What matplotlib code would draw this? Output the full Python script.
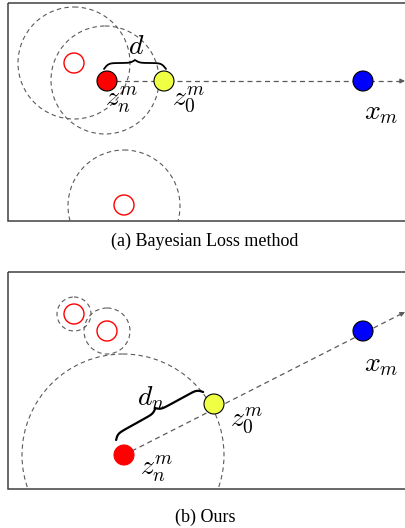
import numpy as np
import matplotlib
matplotlib.use("Agg")
import matplotlib.pyplot as plt
from matplotlib.patches import Circle, Rectangle

plt.rcParams['mathtext.fontset'] = 'cm'

# ---------------- data (pixel positions) ----------------
# Panel (a): Bayesian Loss method
a_box = (8, 3, 410, 218)                  # x, y, w, h
a_zn = (107, 81)
a_z0 = (164, 81)
a_xm = (363, 81)
a_arrow_end = (405, 81)
a_hollow = [(74, 63), (124, 205)]
a_dashed_x = [74, 105, 124]
a_dashed_y = [63, 80, 206]
a_dashed_r = [56, 54, 56]
a_labels = [r'$z_n^m$', r'$z_0^m$', r'$x_m$', r'$d$']
a_label_x = [122, 189, 381, 136]
a_label_y = [100, 100, 112, 46]
a_caption = '(a) Bayesian Loss method'

# Panel (b): Ours
b_box = (8, 272, 410, 217)
b_zn = (124, 455)
b_z0 = (214, 404)
b_xm = (363, 331)
b_arrow_end = (405, 312)
b_hollow = [(74, 314), (107, 331)]
b_dashed_x = [74, 107, 123]
b_dashed_y = [314, 331, 455]
b_dashed_r = [17, 23, 101]
b_labels = [r'$z_n^m$', r'$z_0^m$', r'$x_m$', r'$d_n$']
b_label_x = [157, 247, 381, 151]
b_label_y = [469, 421, 364, 398]
b_caption = '(b) Ours'

node_r = 10
red, yellow, blue = '#ff0000', '#eeff44', '#0000ff'
dash_col = '#5a5a5a'

fig = plt.figure(figsize=(4.06, 5.28), dpi=100)
ax = fig.add_axes([0, 0, 1, 1])
ax.set_xlim(0, 406)
ax.set_ylim(528, 0)
ax.axis('off')


def brace(p1, p2, h_end, h_plat, h_tip, lw):
    p1 = np.asarray(p1, float)
    p2 = np.asarray(p2, float)
    L = np.linalg.norm(p2 - p1)
    u = (p2 - p1) / L
    n = np.array([u[1], -u[0]])  # perpendicular pointing "up" (screen)
    x = np.linspace(0, L / 2, 200)
    beta = 0.45
    s1 = 1 / (1 + np.exp(-beta * (x - x[0])))
    s2 = 1 / (1 + np.exp(-beta * (x - x[-1])))
    yh = 2 * (h_plat - h_end) * (s1 - 0.5) + 2 * (h_tip - h_plat) * s2
    xs = np.concatenate([x, L - x[::-1][1:]])
    ys = np.concatenate([yh, yh[::-1][1:]]) + h_end
    pts = p1[None, :] + xs[:, None] * u[None, :] + ys[:, None] * n[None, :]
    ax.plot(pts[:, 0], pts[:, 1], color='black', lw=lw, zorder=4,
            solid_capstyle='round')


def panel(box, zn, z0, xm, end, hollow, dx, dy, dr, labels, lx, ly, caption, cap_y,
          brace_args, zn_edge):
    x0, y0, w, h = box
    ax.add_patch(Rectangle((x0, y0), w, h, fill=False, ec='#404040', lw=1.1, zorder=1))
    clip = Rectangle((x0, y0), w, h, transform=ax.transData)
    for cx, cy, r in zip(dx, dy, dr):
        c = Circle((cx, cy), r, fill=False, ec=dash_col, lw=0.8, ls=(0, (4, 3)), zorder=2)
        ax.add_patch(c)
        c.set_clip_path(clip)
    for cx, cy in hollow:
        ax.add_patch(Circle((cx, cy), node_r, fill=False, ec=red, lw=1.0, zorder=3))
    zn_a = np.asarray(zn, float)
    end_a = np.asarray(end, float)
    u = (end_a - zn_a) / np.linalg.norm(end_a - zn_a)
    ax.plot([zn_a[0], end_a[0] - 4 * u[0]], [zn_a[1], end_a[1] - 4 * u[1]],
            color=dash_col, lw=0.9, ls=(0, (4, 3)), zorder=2)
    ax.annotate('', xy=end, xytext=(end_a[0] - 5 * u[0], end_a[1] - 5 * u[1]),
                arrowprops=dict(arrowstyle='-|>', color=dash_col, lw=0.8,
                                mutation_scale=7, shrinkA=0, shrinkB=0), zorder=2)
    brace(*brace_args)
    for (cx, cy), col, ec in zip([zn, z0, xm], [red, yellow, blue], [zn_edge, 'black', 'black']):
        ax.add_patch(Circle((cx, cy), node_r, fc=col, ec=ec, lw=0.8, zorder=5))
    for t, x, y in zip(labels, lx, ly):
        ax.text(x, y, t, fontsize=20, ha='center', va='center', zorder=6)
    ax.text(205, cap_y, caption, fontsize=13, family='Liberation Serif',
            ha='center', va='center')


panel(a_box, a_zn, a_z0, a_xm, a_arrow_end, a_hollow, a_dashed_x, a_dashed_y, a_dashed_r,
      a_labels, a_label_x, a_label_y, a_caption, 241,
      ((104, 69), (166, 69), 0, 6, 9, 1.3), 'black')
panel(b_box, b_zn, b_z0, b_xm, b_arrow_end, b_hollow, b_dashed_x, b_dashed_y, b_dashed_r,
      b_labels, b_label_x, b_label_y, b_caption, 517,
      ((120, 447), (207, 399), 8, 13, 17, 1.6), red)

fig.savefig('out.png', dpi=100)
